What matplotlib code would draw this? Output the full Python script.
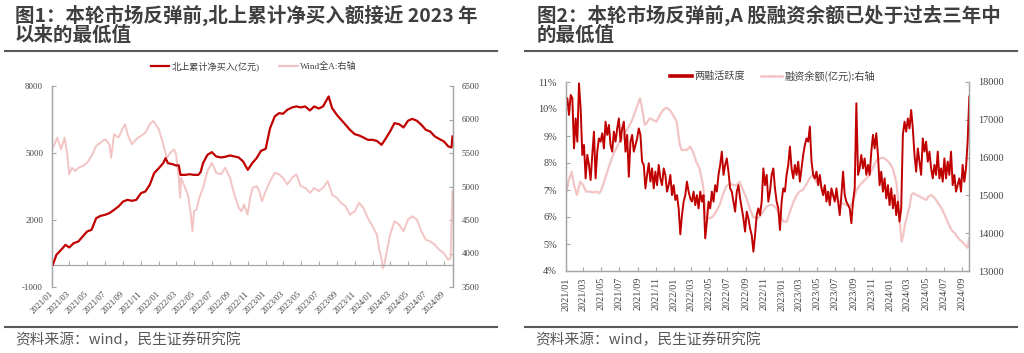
import matplotlib
matplotlib.use("Agg")
import matplotlib.pyplot as plt
import matplotlib.dates as mdates
from matplotlib.lines import Line2D
import pandas as pd

plt.rcParams['font.family'] = ['Noto Sans CJK SC', 'DejaVu Sans']
plt.rcParams['axes.unicode_minus'] = False

# ------------------------------------------------------------------ data
# Figure 1: northbound cumulative net buying (亿元, left axis)
nb_dates = ["2021-01-04","2021-01-16","2021-02-01","2021-02-16","2021-03-01","2021-03-16","2021-04-01","2021-04-16",
            "2021-05-01","2021-05-16","2021-06-01","2021-06-16","2021-07-01","2021-07-16","2021-08-01","2021-08-16",
            "2021-09-01","2021-09-16","2021-10-01","2021-10-16","2021-11-01","2021-11-16","2021-12-01","2021-12-16",
            "2022-01-01","2022-01-16","2022-01-24","2022-02-01","2022-02-16","2022-03-01","2022-03-10","2022-03-16",
            "2022-04-01","2022-04-16","2022-05-01","2022-05-16","2022-05-24","2022-06-01","2022-06-16","2022-07-01",
            "2022-07-16","2022-08-01","2022-08-16","2022-09-01","2022-09-16","2022-10-01","2022-10-16","2022-11-01",
            "2022-11-16","2022-12-01","2022-12-16",
            "2023-01-01","2023-01-16","2023-02-01","2023-02-16","2023-03-01","2023-03-16","2023-04-01","2023-04-16",
            "2023-05-01","2023-05-16","2023-06-01","2023-06-16","2023-07-01","2023-07-16","2023-08-04","2023-08-16",
            "2023-09-01","2023-09-16","2023-10-01","2023-10-16","2023-11-01","2023-11-16","2023-12-01","2023-12-16",
            "2024-01-01","2024-01-16","2024-02-01","2024-02-16","2024-03-01","2024-03-16","2024-04-01","2024-04-16",
            "2024-05-01","2024-05-16","2024-06-01","2024-06-16","2024-07-01","2024-07-16","2024-08-01","2024-08-16",
            "2024-09-01","2024-09-16","2024-09-27","2024-09-30"]
nb_values = [0, 440, 663, 887, 770, 963, 1038, 1262, 1487, 1560, 2082, 2186, 2230, 2306, 2455, 2604,
             2829, 2903, 2858, 2903, 3202, 3277, 3575, 4098,
             4322, 4545, 4770, 4545, 4500, 4440, 4450, 4021, 4021, 4050, 4021, 4021, 4150, 4545, 4917, 5038,
             4845, 4800, 4830, 4890, 4845, 4800, 4620, 4245, 4545, 4770, 5097,
             5186, 6113, 6637, 6785, 6755, 6934, 7040, 7085, 7040, 7085, 6905, 7085, 6990, 7085, 7532, 7008,
             6710, 6486, 6262, 6038, 5844, 5785, 5696, 5590,
             5590, 5540, 5366, 5665, 5964, 6336, 6290, 6143, 6440, 6530, 6440, 6262, 6038, 5964, 5740, 5630,
             5517, 5293, 5249, 5740]

# Figure 1: Wind All A index (right axis)
wind_dates = ["2021-01-04","2021-01-10","2021-01-19","2021-02-01","2021-02-13","2021-02-22","2021-03-01","2021-03-10",
              "2021-03-22","2021-04-01","2021-04-16","2021-05-01","2021-05-16","2021-06-01","2021-06-16","2021-07-01",
              "2021-07-16","2021-07-22","2021-08-01","2021-08-16","2021-09-01","2021-09-08","2021-09-16","2021-10-01",
              "2021-10-16","2021-11-01","2021-11-16","2021-12-01","2021-12-13",
              "2022-01-01","2022-01-16","2022-01-28","2022-02-10","2022-02-22","2022-03-01","2022-03-10","2022-03-15",
              "2022-03-18","2022-04-01","2022-04-10","2022-04-19","2022-04-26","2022-05-01","2022-05-10","2022-05-19",
              "2022-06-01","2022-06-16","2022-07-01","2022-07-16","2022-08-01","2022-08-16","2022-09-01","2022-09-16",
              "2022-10-01","2022-10-10","2022-10-19","2022-10-31","2022-11-10","2022-11-18","2022-12-01","2022-12-10",
              "2022-12-19",
              "2023-01-01","2023-01-16","2023-02-01","2023-02-16","2023-03-01","2023-03-16","2023-04-01","2023-04-16",
              "2023-05-01","2023-05-16","2023-06-01","2023-06-16","2023-07-01","2023-07-16","2023-08-01","2023-08-16",
              "2023-09-01","2023-09-16","2023-10-01","2023-10-16","2023-11-01","2023-11-16","2023-12-01","2023-12-16",
              "2024-01-01","2024-01-16","2024-01-25","2024-02-01","2024-02-05","2024-02-10","2024-02-19","2024-03-01",
              "2024-03-16","2024-04-01","2024-04-16","2024-05-01","2024-05-16","2024-06-01","2024-06-16","2024-07-01",
              "2024-07-16","2024-08-01","2024-08-16","2024-09-01","2024-09-16","2024-09-24","2024-09-30"]
wind_values = [5580, 5630, 5730, 5555, 5730, 5480, 5180, 5280, 5230, 5280, 5305, 5355, 5455, 5605, 5655, 5705,
               5630, 5430, 5780, 5730, 5880, 5930, 5780, 5630, 5705, 5755, 5805, 5930, 5980,
               5855, 5630, 5430, 5505, 5555, 5480, 5130, 4830, 5130, 4980, 4880, 4630, 4330, 4630, 4655, 4830,
               4980, 5230, 5355, 5205, 5180, 5280, 5130, 4880, 4680, 4630, 4730, 4580, 4855, 4980, 5005, 4930,
               4780,
               4930, 5080, 5205, 5180, 5130, 5030, 5130, 5180, 5005, 4980, 4905, 4980, 4930, 4980, 5080, 4880,
               4830, 4755, 4705, 4580, 4630, 4755, 4680, 4530,
               4405, 4280, 4030, 3930, 3780, 3830, 4030, 4280, 4480, 4430, 4330, 4505, 4555, 4505, 4330, 4205,
               4180, 4130, 4055, 4005, 3905, 3930, 4930]

# Figure 2: margin trading activity (%, left axis), evenly spaced readings over the period
act_start = "2021-01-01"
act_end = "2024-09-26"
act_values = [10.03, 10.40, 9.78, 10.52, 10.40, 8.54, 9.65, 8.79, 10.95, 10.03,
              8.30, 8.67, 7.43, 8.30, 7.93, 7.37, 8.30, 9.16, 7.43, 8.42,
              8.91, 8.79, 9.10, 8.54, 9.53, 9.04, 9.41, 8.67, 8.42, 9.16,
              8.79, 9.28, 9.65, 8.79, 9.28, 9.53, 8.42, 9.04, 7.49, 8.79,
              9.04, 8.42, 8.67, 8.91, 9.28, 9.04, 8.05, 7.93, 7.06, 7.56,
              7.99, 7.31, 7.80, 7.06, 7.68, 7.18, 7.93, 7.43, 7.18, 7.80,
              7.56, 6.94, 7.18, 7.56, 6.81, 7.18, 6.63, 6.81, 6.32, 5.36,
              6.07, 6.57, 6.81, 7.31, 6.94, 6.69, 6.57, 6.94, 6.44, 6.81,
              6.32, 6.94, 6.57, 6.81, 5.21, 5.83, 6.57, 6.32, 6.94, 6.57,
              7.18, 6.94, 7.56, 7.93, 8.42, 7.56, 7.93, 8.17, 7.68, 7.06,
              6.94, 6.57, 6.20, 6.94, 7.18, 6.69, 6.32, 5.95, 5.46, 6.20,
              5.95, 5.58, 5.33, 4.72, 5.33, 6.07, 6.32, 6.07, 6.57,
              7.80, 7.18, 7.56, 6.57, 6.94, 7.56, 7.80, 7.06, 6.57, 6.32,
              5.52, 6.57, 7.06, 6.94, 7.56, 7.93, 8.61, 7.80, 7.43, 7.93,
              7.56, 8.05, 7.31, 7.80, 8.30, 8.67, 8.91, 8.79, 9.35, 8.05,
              7.56, 7.43, 7.68, 7.18, 7.56, 7.06, 6.81, 7.18, 6.57, 6.94,
              6.44, 7.06, 6.81, 6.57, 7.06, 6.57, 6.07, 6.81, 7.68, 6.81,
              6.57, 6.44, 6.32, 5.77, 6.57, 7.06, 10.21, 7.56, 7.80, 8.30,
              7.80, 8.17, 7.56, 7.93, 7.56, 8.42, 9.04, 8.54, 9.10, 8.30,
              7.18, 7.68, 6.94, 7.43, 6.69, 7.18, 6.44, 7.06, 6.32, 6.81,
              6.07, 6.57, 5.83, 6.32, 9.04, 9.53, 9.16, 9.65, 9.28, 9.96,
              9.28, 8.30, 7.68, 8.54, 8.05, 7.56, 8.91, 8.42, 8.79, 8.05,
              8.42, 7.80, 7.43, 7.93, 7.56, 8.42, 7.43, 7.80, 7.31, 8.17,
              7.43, 8.05, 7.56, 8.42, 7.18, 7.56, 6.94, 7.18, 7.43, 6.94,
              7.93, 7.31, 7.80, 8.79, 10.46]

# Figure 2: margin financing balance (亿元, right axis)
margin_dates = ["2021-01-04","2021-01-10","2021-01-21","2021-01-29","2021-02-08","2021-02-19","2021-03-01","2021-03-11",
                "2021-03-22","2021-04-03","2021-04-14","2021-04-25","2021-05-01","2021-05-07","2021-05-18","2021-05-29",
                "2021-06-10","2021-06-21","2021-07-02","2021-07-13","2021-07-24","2021-08-05","2021-08-16","2021-08-28",
                "2021-09-09","2021-09-14","2021-09-20","2021-09-25","2021-10-01","2021-10-12","2021-10-23","2021-11-04",
                "2021-11-15","2021-11-26","2021-12-08","2021-12-19","2021-12-30",
                "2022-01-11","2022-01-17","2022-01-22","2022-01-28","2022-02-14","2022-02-25","2022-03-07","2022-03-18",
                "2022-03-29","2022-04-10","2022-04-15","2022-04-21","2022-05-02","2022-05-13","2022-05-24","2022-06-05",
                "2022-06-16","2022-06-27","2022-07-09","2022-07-20","2022-08-01","2022-08-12","2022-08-23","2022-09-04",
                "2022-09-15","2022-09-26","2022-10-08","2022-10-19","2022-10-30","2022-11-11","2022-11-22","2022-12-03",
                "2022-12-14","2022-12-25",
                "2023-01-07","2023-01-18","2023-01-29","2023-02-10","2023-02-21","2023-03-02","2023-03-13","2023-03-24",
                "2023-04-05","2023-04-16","2023-04-27","2023-05-09","2023-05-20","2023-06-01","2023-06-12","2023-06-23",
                "2023-07-04","2023-07-15","2023-07-26","2023-08-08","2023-08-19","2023-08-30","2023-09-11","2023-09-22",
                "2023-10-03","2023-10-14","2023-10-25","2023-11-07","2023-11-18","2023-11-29","2023-12-10","2023-12-21",
                "2024-01-02","2024-01-13","2024-01-24","2024-01-30","2024-02-05","2024-02-10","2024-02-16","2024-02-21",
                "2024-02-27","2024-03-09","2024-03-14","2024-03-20","2024-04-01","2024-04-12","2024-04-23","2024-05-04",
                "2024-05-10","2024-05-21","2024-06-02","2024-06-13","2024-06-24","2024-07-05","2024-07-17","2024-07-28",
                "2024-08-09","2024-08-20","2024-09-01","2024-09-12","2024-09-20","2024-09-26"]
margin_values = [15099, 15363, 15628, 15275, 15011, 15363, 15275, 15099, 15099, 15081, 15099, 15055, 15143, 15275,
                 15540, 15804, 16069, 16245, 16421, 16510, 16686, 16862, 17039, 17303, 17568, 17391, 17127, 16862,
                 16906, 17039, 16995, 16950, 17127, 17259, 17321, 17259, 17127,
                 16950, 16598, 16333, 16201, 16201, 16290, 16157, 15892, 15716, 15275, 14834, 14393, 14393, 14437,
                 14570, 14746, 15011, 15231, 15319, 15275, 15275, 15363, 15143, 14922, 14658, 14437, 14393, 14437,
                 14570, 14702, 14746, 14746, 14658, 14481,
                 14305, 14305, 14570, 14834, 15011, 15099, 15143, 15275, 15451, 15540, 15363, 15275, 15187, 15099,
                 15055, 14966, 14922, 14834, 14790, 14746, 14702, 14834, 15143, 15275, 15363, 15451, 15540, 15760,
                 15936, 15981, 15998, 15936,
                 15848, 15672, 15319, 14834, 14217, 13776, 13952, 14217, 14393, 14746, 15011, 15055, 15011, 14966,
                 14922, 14878, 14966, 15011, 14922, 14790, 14658, 14481, 14261, 14084, 13996, 13864, 13776, 13688,
                 13617, 13864]

tick_dates = pd.date_range("2021-01-01", "2024-09-01", freq="2MS")
tick_labels = [d.strftime("%Y/%m") for d in tick_dates]

left1_ticks = [-1000, 2000, 5000, 8000]
right1_ticks = [3500, 4000, 4500, 5000, 5500, 6000, 6500]
left2_ticks = [4, 5, 6, 7, 8, 9, 10, 11]
right2_ticks = [13000, 14000, 15000, 16000, 17000, 18000]

title1 = ["图1：本轮市场反弹前,北上累计净买入额接近 2023 年", "以来的最低值"]
title2 = ["图2：本轮市场反弹前,A 股融资余额已处于过去三年中", "的最低值"]
legend1 = ["北上累计净买入(亿元)", "Wind全A:右轴"]
legend2 = ["两融活跃度", "融资余额(亿元):右轴"]
source = "资料来源：wind，民生证券研究院"

# ------------------------------------------------------------------ style
W, H = 1024, 353
RED = "#C00000"
PINK = "#F2C4C4"
GRAY = "#A6A6A6"
TXT = "#404040"
TITLE = "#3F3F3F"
RULE = "#595959"
SERIF = ["Liberation Serif", "DejaVu Serif"]


def fx(px):
    return px / W


def fy(py):
    return 1 - py / H


fig = plt.figure(figsize=(W / 100, H / 100), dpi=100)

# ------------------------------------------------------------------ chart 1
ax1 = fig.add_axes([fx(52), fy(287), fx(453) - fx(52), fy(86) - fy(287)])
ax1b = ax1.twinx()
ax1.set_zorder(ax1b.get_zorder() + 1)
ax1.patch.set_visible(False)

ax1b.plot(pd.to_datetime(wind_dates), wind_values, color=PINK, lw=1.4)
ax1.plot(pd.to_datetime(nb_dates), nb_values, color=RED, lw=1.6)

ax1.set_xlim(pd.Timestamp("2021-01-01"), pd.Timestamp("2024-10-02"))
ax1.set_ylim(-1000, 8000)
ax1b.set_ylim(3500, 6500)
ax1.set_yticks(left1_ticks, labels=[str(v) for v in left1_ticks], fontfamily=SERIF, fontsize=6.3, color=TXT)
ax1b.set_yticks(right1_ticks, labels=[str(v) for v in right1_ticks], fontfamily=SERIF, fontsize=6.3, color=TXT)
ax1.set_xticks(tick_dates, labels=tick_labels, rotation=45, ha="right", va="center",
               rotation_mode="anchor", fontfamily=SERIF, fontsize=6.2, color=TXT)
ax1.tick_params(axis="x", length=0, pad=4)
ax1.tick_params(axis="y", direction="in", length=3, color=GRAY, pad=6.5)
ax1b.tick_params(axis="y", direction="in", length=3, color=GRAY, pad=6.3)
for a in (ax1, ax1b):
    for s in ("top", "bottom"):
        a.spines[s].set_visible(False)
    for s in ("left", "right"):
        a.spines[s].set_color(GRAY)
        a.spines[s].set_linewidth(0.9)

# zero line with tick marks
sec = ax1.secondary_xaxis(1000 / 9000)
sec.set_xticks(mdates.date2num(tick_dates))
sec.tick_params(axis="x", direction="in", length=3, color=GRAY, labelbottom=False, labeltop=False)
for s in sec.spines.values():
    s.set_color(GRAY)
    s.set_linewidth(0.9)

fig.legend([Line2D([], [], color=RED, lw=1.6), Line2D([], [], color=PINK, lw=1.6)], legend1,
           loc="center", bbox_to_anchor=(fx(254), fy(66.5)), ncol=2, frameon=False,
           prop={"family": ["Liberation Serif", "Noto Sans CJK SC"], "size": 6.6},
           handlelength=2.0, handletextpad=0.3, columnspacing=2.1, labelcolor=TXT)

# ------------------------------------------------------------------ chart 2
ax2 = fig.add_axes([fx(565.7), fy(271), fx(969.3) - fx(565.7), fy(82) - fy(271)])
ax2b = ax2.twinx()
ax2.set_zorder(ax2b.get_zorder() + 1)
ax2.patch.set_visible(False)

ax2b.plot(pd.to_datetime(margin_dates), margin_values, color=PINK, lw=1.6)
act_dates = pd.date_range(act_start, act_end, periods=len(act_values))
ax2.plot(act_dates, act_values, color=RED, lw=1.4)

ax2.set_xlim(pd.Timestamp("2021-01-01"), pd.Timestamp("2024-09-26"))
ax2.set_ylim(4, 11)
ax2b.set_ylim(13000, 18000)
ax2.set_yticks(left2_ticks, labels=[f"{v}%" for v in left2_ticks], fontfamily=SERIF, fontsize=7.4, color=TXT)
ax2b.set_yticks(right2_ticks, labels=[str(v) for v in right2_ticks], fontfamily=SERIF, fontsize=7.4, color=TXT)
ax2.set_xticks(tick_dates, labels=tick_labels, rotation=90, ha="center", va="top",
               fontfamily=SERIF, fontsize=7.3, color=TXT)
ax2.tick_params(axis="x", direction="in", length=3, color=GRAY, pad=4.5)
ax2.tick_params(axis="y", direction="in", length=3, color=GRAY, pad=6.3)
ax2b.tick_params(axis="y", direction="in", length=3, color=GRAY, pad=6.3)
for a in (ax2, ax2b):
    a.spines["top"].set_visible(False)
    for s in ("left", "right", "bottom"):
        a.spines[s].set_color(GRAY)
        a.spines[s].set_linewidth(0.9)

fig.legend([Line2D([], [], color=RED, lw=2.6), Line2D([], [], color=PINK, lw=1.8)], legend2,
           loc="center", bbox_to_anchor=(fx(773), fy(76)), ncol=2, frameon=False,
           prop={"family": ["Noto Sans CJK SC", "DejaVu Sans"], "size": 7.3},
           handlelength=2.1, handletextpad=0.3, columnspacing=1.5, labelcolor=TXT)

# ------------------------------------------------------------------ titles, rules, sources
for x0, x1, tx, sx, lines in ((5, 497, 15, 15, title1), (525, 1017, 537, 535, title2)):
    fig.text(fx(tx), fy(15.5), lines[0], fontsize=14, fontweight="bold", color=TITLE, ha="left", va="center")
    fig.text(fx(tx), fy(35), lines[1], fontsize=14, fontweight="bold", color=TITLE, ha="left", va="center")
    fig.add_artist(Line2D([fx(x0), fx(x1)], [fy(50.7), fy(50.7)], transform=fig.transFigure, color=RULE, lw=1.5))
    fig.add_artist(Line2D([fx(x0), fx(x1)], [fy(326.7), fy(326.7)], transform=fig.transFigure, color=RULE, lw=1.5))
    fig.text(fx(sx), fy(340), source, fontsize=10.6, color="#595959", ha="left", va="center")

fig.savefig("out.png", dpi=100)
